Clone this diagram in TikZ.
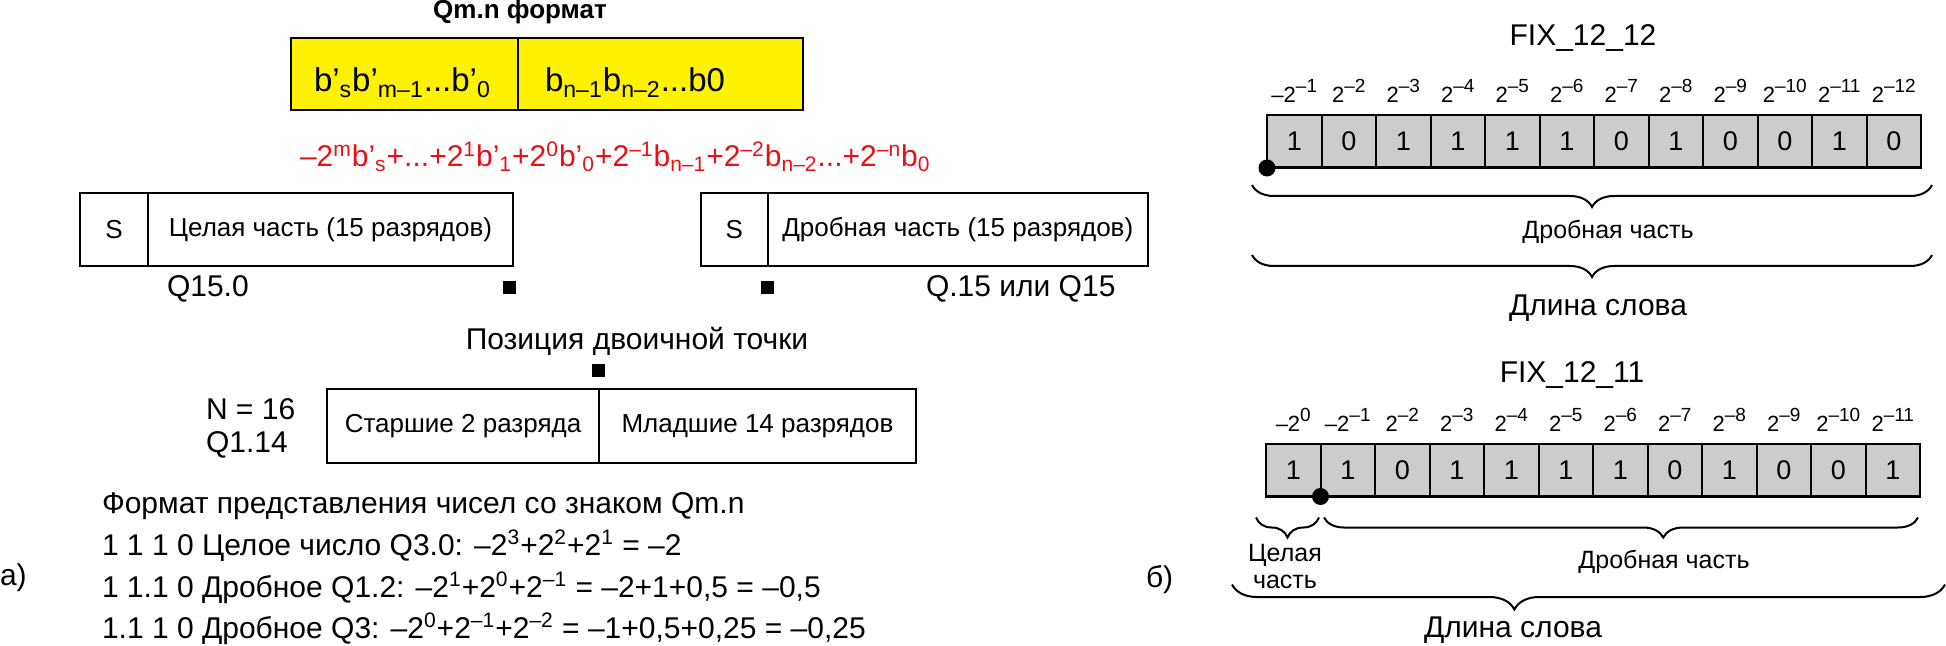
\documentclass[tikz,border=0pt]{standalone}
\usepackage{fontspec}
\setmainfont{Liberation Sans}
\usetikzlibrary{positioning,calc,decorations.pathreplacing}

\definecolor{cellgray}{RGB}{204,204,204}
\definecolor{sumred}{RGB}{232,16,20}
\newcommand{\fsz}[1]{\fontsize{#1}{#1}\selectfont}
\newcommand{\pw}[1]{\textsuperscript{#1}}
\newcommand{\ix}[1]{\textsubscript{#1}}
\newcommand{\ep}[1]{\raisebox{5pt}{\fsz{9.5pt}#1}}

\begin{document}
\begin{tikzpicture}[x=0.5pt, y=-0.5pt,
    every node/.style={inner sep=0pt, outer sep=0pt, font=\fsz{15pt}},
    field/.style={draw, line width=1pt, minimum height=36.5pt, font=\fsz{13pt}},
    ybox/.style={field, fill=yellow, minimum height=36pt, align=left, font=\fsz{16.5pt}, text height=18pt, text depth=0pt},
    cell/.style={draw, line width=1pt, fill=cellgray, minimum width=27.25pt, minimum height=26.5pt, font=\fsz{13.5pt}},
    expo/.style={anchor=base, font=\fsz{11pt}},
    binpt/.style={fill=black, minimum size=6.5pt},
    bdot/.style={circle, fill=black, minimum size=8.5pt},
    brc/.style={decorate, decoration={brace, mirror, amplitude=#1}, line width=1pt},
    brc/.default=11pt,
    txt/.style={anchor=base west},
    ctr/.style={anchor=base}
  ]
  \useasboundingbox (0,0) rectangle (1946,646);

  % --- a) Qm.n
  \node[ctr, font=\fsz{13pt}\bfseries] (title) at (520,19) {Qm.n формат};
  \node[ybox, anchor=west, text width=90.5pt, inner xsep=11.5pt] (yint) at (291,74) {b’\ix{s}b’\ix{m–1}...b’\ix{0}};
  \node[ybox, right=0pt of yint, text width=115.5pt, inner xsep=13.5pt] (yfrac) {b\ix{n–1}b\ix{n–2}...b0};
  \node[txt, text=sumred] (sum) at (300,167)
    {–2\pw{m}b’\ix{s}+...+2\pw{1}b’\ix{1}+2\pw{0}b’\ix{0}+2\pw{–1}b\ix{n–1}+2\pw{–2}b\ix{n–2}...+2\pw{–n}b\ix{0}};

  \node[field, anchor=west, minimum width=34pt] (ls) at (80,229.5) {S};
  \node[field, right=0pt of ls, minimum width=182.5pt] (lint) {Целая часть (15 разрядов)};
  \node[field, anchor=west, minimum width=33.25pt] (rs) at (701,229.5) {S};
  \node[field, right=0pt of rs, minimum width=190.25pt] (rfrac) {Дробная часть (15 разрядов)};
  \node[txt] (q150) at (167,297) {Q15.0};
  \node[txt] (q15) at (926,297) {Q.15 или Q15};
  \node[binpt] (bp1) at ([shift={(-3.5,21.5)}]lint.south east) {};
  \node[binpt] (bp2) at ([shift={(0,22)}]rs.south east) {};

  \node[ctr] (pos) at (637,350) {Позиция двоичной точки};
  \node[field, anchor=west, minimum width=136pt, minimum height=37pt] (hi) at (327,426) {Старшие 2 разряда};
  \node[field, right=0pt of hi, minimum width=158.5pt, minimum height=37pt] (lo) {Младшие 14 разрядов};
  \node[binpt] (bp3) at ([shift={(-0.5,-18.5)}]hi.north east) {};
  \node[txt] (nn) at (206,419) {N = 16};
  \node[txt] (q114) at (206,452) {Q1.14};

  \node[txt] (fmt) at (102,513) {Формат представления чисел со знаком Qm.n};
  \node[txt] (ex1) at (102,555) {1 1 1 0 Целое число Q3.0: –2\pw{3}+2\pw{2}+2\pw{1} = –2};
  \node[txt] (ex2) at (102,597) {1 1.1 0 Дробное Q1.2: –2\pw{1}+2\pw{0}+2\pw{–1} = –2+1+0,5 = –0,5};
  \node[txt] (ex3) at (102,638) {1.1 1 0 Дробное Q3: –2\pw{0}+2\pw{–1}+2\pw{–2} = –1+0,5+0,25 = –0,25};
  \node[txt] (capa) at (0,585) {а)};

  % --- b) FIX_12_12
  \node[ctr] (fixa) at (1583,46) {FIX\_12\_12};
  \foreach \v [count=\i] in {1,0,1,1,1,1,0,1,0,0,1,0}
    \node[cell] (a\i) at ({1267+54.5*(\i-0.5)},141.5) {\v};
  \foreach \i in {1,...,12}
    \node[expo] (ea\i) at ($(a\i.north)+(0,-12)$) {\ifnum\i=1 –\fi2\ep{–\i}};
  \draw[line width=1.5pt] (a1.south west) -- (a12.south east);
  \node[bdot] (oa) at (a1.south west) {};
  \draw[brc] ([shift={(-15,17)}]a1.south west) -- ([shift={(11,17)}]a12.south east);
  \node[ctr, font=\fsz{12.5pt}] (fraca) at (1608,239) {Дробная часть};
  \draw[brc] ([shift={(-15,87)}]a1.south west) -- ([shift={(11,87)}]a12.south east);
  \node[ctr] (lena) at (1598,315) {Длина слова};

  % --- b) FIX_12_11
  \node[ctr] (fixb) at (1572,382) {FIX\_12\_11};
  \foreach \v [count=\i] in {1,1,0,1,1,1,1,0,1,0,0,1}
    \node[cell] (c\i) at ({1266+54.5*(\i-0.5)},470) {\v};
  \foreach \i [evaluate=\i as \k using int(\i-1)] in {1,...,12}
    \node[expo] (ec\i) at ($(c\i.north)+(0,-12)$) {\ifnum\i<3 –\fi2\ep{\ifnum\k>0 –\fi\k}};
  \draw[line width=1.5pt] (c1.south west) -- (c12.south east);
  \node[bdot] (ob) at (c1.south east) {};
  \draw[brc=10pt] ([shift={(-10,21)}]c1.south west) -- ([shift={(-1.5,21)}]c1.south east);
  \draw[brc=10pt, decoration={aspect=0.571}] ([shift={(3.5,21)}]c2.south west) -- ([shift={(-2,21)}]c12.south east);
  \node[ctr, font=\fsz{12.5pt}] (intb) at (1285,561) {Целая};
  \node[ctr, font=\fsz{12.5pt}] (intc) at (1285,588) {часть};
  \node[ctr, font=\fsz{12.5pt}] (fracb) at (1664,568) {Дробная часть};
  \draw[brc=12.5pt, decoration={aspect=0.396}] ([shift={(-34,88)}]c1.south west) -- ([shift={(25,88)}]c12.south east);
  \node[ctr] (lenb) at (1513,637) {Длина слова};
  \node[txt] (capb) at (1146,587) {б)};
\end{tikzpicture}
\end{document}
